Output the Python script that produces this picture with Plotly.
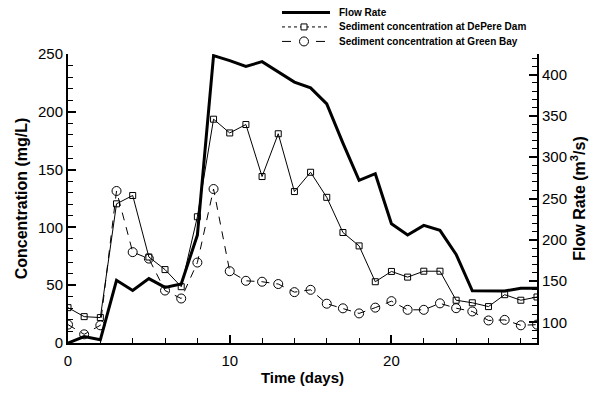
import plotly.graph_objects as go

days = list(range(30))
flow_rate = [75, 82.7, 78.9, 151, 138.6, 153, 142.4, 146.4, 205.7, 423,
             417, 410, 415.7, 403, 391, 384, 364.6, 317, 272, 280,
             219.4, 205.7, 217.4, 211.5, 182.3, 138.2, 138, 138, 141.3, 141.3]
depere = [30.6, 22.8, 22, 120.4, 127.6, 74.4, 63.5, 48.7, 109.2, 193.6,
          181.7, 189, 144, 181, 131, 147.7, 126, 95.6, 84, 53,
          61.9, 57, 62.1, 62.1, 37, 34.8, 31.5, 41.8, 37, 39.8]
green_bay = [15.9, 7.5, 15.3, 131.5, 78.6, 73, 45.4, 38.5, 69.6, 133.2,
             62.1, 53.8, 53, 51, 44, 46, 34, 30, 25.6, 30.6,
             36.2, 28.7, 28.7, 34.3, 30.1, 27.3, 19.5, 20, 15.3, 15.9]

legend_names = ["Flow Rate", "Sediment concentration at DePere Dam",
                "Sediment concentration at Green Bay"]

FONT = "Liberation Sans, Arial, sans-serif"
W, H = 603, 396
L, R, T, B = 68, 66, 54, 43
pw, ph = W - L - R, H - T - B


def px(x):
    return (x - L) / pw


def py(y):
    return (H - B - y) / ph


fig = go.Figure()
fig.add_trace(go.Scatter(x=days, y=flow_rate, yaxis="y2", mode="lines",
                         line=dict(color="black", width=3), name=legend_names[0]))
fig.add_trace(go.Scatter(x=days, y=depere, mode="lines+markers",
                         line=dict(color="black", width=1),
                         marker=dict(symbol="square-open", size=6, color="black",
                                     line=dict(width=1)),
                         name=legend_names[1]))
fig.add_trace(go.Scatter(x=days, y=green_bay, mode="lines+markers",
                         line=dict(color="black", width=1, dash="8px,7px"),
                         marker=dict(symbol="circle-open", size=9, color="black",
                                     line=dict(width=1)),
                         name=legend_names[2]))

axis_common = dict(showline=True, linecolor="black", linewidth=2, ticks="inside",
                   tickcolor="black", tickwidth=2, ticklen=8, showgrid=False,
                   zeroline=False, tickfont=dict(family=FONT, size=15, color="black"))

fig.update_layout(
    width=W, height=H, margin=dict(l=L, r=R, t=T, b=B, pad=0),
    paper_bgcolor="white", plot_bgcolor="white", showlegend=False,
    xaxis=dict(range=[0, 29], dtick=10, tick0=0, ticklabelstandoff=3,
               minor=dict(dtick=2, ticks="inside", ticklen=5, tickwidth=1, tickcolor="black"),
               title=dict(text="<b>Time (days)</b>", standoff=4,
                          font=dict(family=FONT, size=15, color="black")),
               **axis_common),
    yaxis=dict(range=[0, 250], dtick=50, tick0=0,
               minor=dict(dtick=10, ticks="inside", ticklen=5, tickwidth=1, tickcolor="black"),
               title=dict(text="<b>Concentration (mg/L)</b>", standoff=6,
                          font=dict(family=FONT, size=16, color="black")),
               **axis_common),
    yaxis2=dict(range=[75, 425], dtick=50, tick0=100, overlaying="y", side="right",
                minor=dict(dtick=10, ticks="inside", ticklen=5, tickwidth=1, tickcolor="black"),
                title=dict(text="<b>Flow Rate (m<sup>3</sup>/s)</b>", standoff=8,
                           font=dict(family=FONT, size=16, color="black")),
                **axis_common),
)

# manual legend
lx0, lx1, ltx = 282, 330, 337
ys = [11, 26, 41]
shapes = []
annots = []
shapes.append(dict(type="line", xref="paper", yref="paper", x0=px(lx0), x1=px(lx1),
                   y0=py(ys[0]), y1=py(ys[0]), line=dict(color="black", width=3)))
shapes.append(dict(type="line", xref="paper", yref="paper", x0=px(lx0), x1=px(lx1),
                   y0=py(ys[1]), y1=py(ys[1]), line=dict(color="black", width=1, dash="dot")))
shapes.append(dict(type="rect", xref="paper", yref="paper", xsizemode="pixel",
                   ysizemode="pixel", xanchor=px(304), yanchor=py(ys[1]),
                   x0=-3, x1=3, y0=-3, y1=3, fillcolor="white",
                   line=dict(color="black", width=1)))
shapes.append(dict(type="line", xref="paper", yref="paper", x0=px(282), x1=px(291),
                   y0=py(ys[2]), y1=py(ys[2]), line=dict(color="black", width=1)))
shapes.append(dict(type="line", xref="paper", yref="paper", x0=px(316), x1=px(325),
                   y0=py(ys[2]), y1=py(ys[2]), line=dict(color="black", width=1)))
shapes.append(dict(type="circle", xref="paper", yref="paper", xsizemode="pixel",
                   ysizemode="pixel", xanchor=px(304), yanchor=py(ys[2]),
                   x0=-4.5, x1=4.5, y0=-4.5, y1=4.5, fillcolor="white",
                   line=dict(color="black", width=1)))
for name, yy in zip(legend_names, ys):
    annots.append(dict(xref="paper", yref="paper", x=px(ltx), y=py(yy), xanchor="left",
                       yanchor="middle", showarrow=False, text="<b>" + name + "</b>",
                       font=dict(family=FONT, size=10, color="black")))
fig.update_layout(shapes=shapes, annotations=annots)

fig.write_html("out.html")
